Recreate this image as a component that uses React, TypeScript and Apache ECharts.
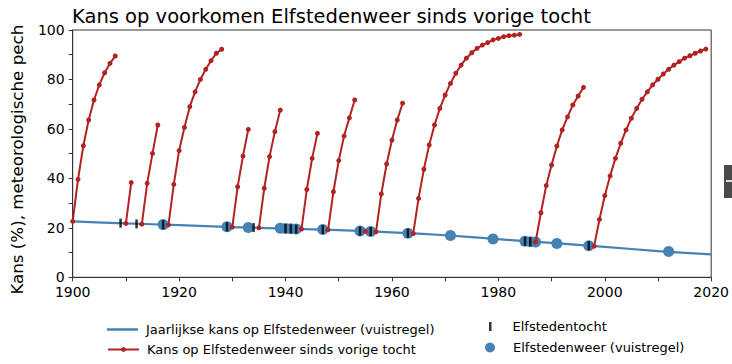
import React, { useEffect, useRef } from "react";
import * as echarts from "echarts";

// Jaarlijkse kans op Elfstedenweer (vuistregel), read at decade points
const lineYears = [1900, 1910, 1920, 1930, 1940, 1950, 1960, 1970, 1980, 1990, 2000, 2010, 2020];
const lineValues = [22.6, 21.8, 21.1, 20.3, 19.7, 19.1, 18.2, 17.0, 15.4, 13.9, 12.3, 10.6, 9.3];

// Kans op Elfstedenweer sinds vorige tocht: one curve per period
const curveStarts = [1900, 1910, 1913, 1918, 1930, 1935, 1943, 1948, 1955, 1957, 1964, 1987, 1998];
const curve1900 = [22.6, 39.6, 53.2, 63.6, 71.7, 77.8, 82.7, 86.5, 89.5];
const curve1910 = [21.8, 38.3];
const curve1913 = [21.5, 38.0, 50.1, 61.6];
const curve1918 = [21.2, 37.6, 51.2, 60.6, 69.0, 75.0, 80.0, 84.1, 87.6, 90.6, 92.2];
const curve1930 = [20.3, 36.6, 49.0, 59.8];
const curve1935 = [20.0, 36.0, 48.8, 58.9, 67.6];
const curve1943 = [19.5, 35.5, 48.1, 58.2];
const curve1948 = [19.2, 34.6, 47.2, 57.1, 64.5, 71.7];
const curve1955 = [18.6];
const curve1957 = [18.4, 33.7, 45.8, 55.5, 63.6, 70.4];
const curve1964 = [17.7, 31.9, 43.7, 53.5, 61.6, 68.3, 73.7, 78.4, 82.5, 85.8, 88.6, 90.8, 92.6, 93.9, 94.9, 96.0, 96.6, 97.3, 97.7, 97.9, 98.2];
const curve1987 = [14.3, 26.1, 37.1, 45.4, 53.1, 59.6, 64.9, 69.7, 73.3, 76.8];
const curve1998 = [12.6, 23.4, 33.0, 41.0, 48.1, 54.2, 59.6, 64.3, 68.3, 72.0, 75.0, 77.8, 80.1, 82.2, 84.1, 85.8, 87.2, 88.6, 89.6, 90.6, 91.5, 92.3];
const curves = [curve1900, curve1910, curve1913, curve1918, curve1930, curve1935, curve1943, curve1948, curve1955, curve1957, curve1964, curve1987, curve1998];

// Elfstedentocht
const tochtYears = [1909, 1912, 1917, 1929, 1934, 1940, 1941, 1942, 1947, 1954, 1956, 1963, 1985, 1986, 1997];
const tochtValues = [21.9, 21.6, 21.3, 20.4, 20.1, 19.7, 19.6, 19.5, 19.3, 18.7, 18.5, 17.8, 14.6, 14.4, 12.8];

// Elfstedenweer (vuistregel)
const weerYears = [1917, 1929, 1933, 1939, 1940, 1941, 1942, 1947, 1954, 1956, 1963, 1971, 1979, 1985, 1986, 1987, 1991, 1997, 2012];
const weerValues = [21.3, 20.4, 20.1, 19.8, 19.7, 19.6, 19.5, 19.3, 18.7, 18.5, 17.8, 16.9, 15.5, 14.6, 14.4, 14.3, 13.7, 12.8, 10.4];

const xTicksLabeled = [1900, 1920, 1940, 1960, 1980, 2000, 2020];
const yTicksLabeled = [0, 20, 40, 60, 80, 100];

const NAME_LINE = "Jaarlijkse kans op Elfstedenweer (vuistregel)";
const NAME_RED = "Kans op Elfstedenweer sinds vorige tocht";
const NAME_TOCHT = "Elfstedentocht";
const NAME_WEER = "Elfstedenweer (vuistregel)";

const FONT = "DejaVu Sans";
const BLUE = "#4682b4";
const RED = "#b22222";

export default function App() {
  const ref = useRef<HTMLDivElement>(null);
  useEffect(() => {
    if (!ref.current) return;
    const chart = echarts.init(ref.current, undefined, { renderer: "svg" });

    const redSeries = curves.map((vals, i) => ({
      type: "line",
      name: NAME_RED,
      data: vals.map((v, k) => [curveStarts[i] + k, v]),
      symbol: "circle",
      symbolSize: 5,
      showSymbol: true,
      lineStyle: { color: RED, width: 2 },
      itemStyle: { color: RED },
      z: 3,
    }));

    const option: any = {
      animation: false,
      backgroundColor: "#fff",
      title: {
        text: "Kans op voorkomen Elfstedenweer sinds vorige tocht",
        left: 67,
        top: 1,
        textStyle: { fontFamily: FONT, fontSize: 19.5, fontWeight: "normal", color: "#000" },
      },
      grid: {
        left: 72.7,
        right: 19.3,
        top: 30,
        bottom: 86.7,
        show: true,
        borderColor: "#333",
        borderWidth: 1,
        containLabel: false,
      },
      xAxis: {
        type: "value",
        min: 1900,
        max: 2020,
        interval: 10,
        axisLine: { show: true, lineStyle: { color: "#333", width: 1 } },
        axisTick: { show: true, inside: false, length: 4, lineStyle: { color: "#333" } },
        splitLine: { show: false },
        axisLabel: {
          margin: 8,
          fontFamily: FONT,
          fontSize: 14,
          color: "#000",
          formatter: (v: number) => (xTicksLabeled.includes(v) ? String(v) : ""),
        },
      },
      yAxis: {
        type: "value",
        min: 0,
        max: 100,
        interval: 10,
        name: "Kans (%), meteorologische pech",
        nameLocation: "middle",
        nameGap: 47,
        nameTextStyle: { fontFamily: FONT, fontSize: 16.7, color: "#000", padding: [0, 12, 0, 0] },
        axisLine: { show: true, lineStyle: { color: "#333", width: 1 } },
        axisTick: { show: true, inside: false, length: 4, lineStyle: { color: "#333" } },
        splitLine: { show: false },
        axisLabel: {
          margin: 8,
          fontFamily: FONT,
          fontSize: 14,
          color: "#000",
          formatter: (v: number) => (yTicksLabeled.includes(v) ? String(v) : ""),
        },
      },
      legend: [
        {
          data: [{ name: NAME_LINE, icon: "rect" }],
          left: 107,
          top: 323,
          padding: 0,
          itemWidth: 31,
          itemHeight: 2.5,
          textStyle: { fontFamily: FONT, fontSize: 13, color: "#000", padding: [0, 0, 0, 3] },
        },
        {
          data: [NAME_RED],
          left: 107,
          top: 343,
          padding: 0,
          itemWidth: 31,
          itemHeight: 6,
          textStyle: { fontFamily: FONT, fontSize: 13, color: "#000", padding: [0, 0, 0, 3] },
        },
        {
          data: [{ name: NAME_TOCHT, icon: "rect" }],
          left: 489,
          top: 320,
          padding: 0,
          itemWidth: 2.5,
          itemHeight: 9,
          textStyle: { fontFamily: FONT, fontSize: 13, color: "#000", padding: [0, 0, 0, 16] },
        },
        {
          data: [{ name: NAME_WEER, icon: "circle" }],
          left: 485,
          top: 341,
          padding: 0,
          itemWidth: 10,
          itemHeight: 10,
          textStyle: { fontFamily: FONT, fontSize: 13, color: "#000", padding: [0, 0, 0, 13] },
        },
      ],
      series: [
        {
          type: "scatter",
          name: NAME_WEER,
          data: weerYears.map((y, i) => [y, weerValues[i]]),
          symbol: "circle",
          symbolSize: 11,
          itemStyle: { color: BLUE, opacity: 1 },
          z: 1,
        },
        {
          type: "line",
          name: NAME_LINE,
          data: lineYears.map((y, i) => [y, lineValues[i]]),
          symbol: "none",
          showSymbol: false,
          smooth: 0.3,
          lineStyle: { color: BLUE, width: 2.2 },
          itemStyle: { color: BLUE },
          z: 2,
        },
        ...redSeries,
        {
          type: "scatter",
          name: NAME_TOCHT,
          data: tochtYears.map((y, i) => [y, tochtValues[i]]),
          symbol: "rect",
          symbolSize: [2.5, 9],
          itemStyle: { color: "#000" },
          z: 4,
        },
      ],
      graphic: [
        { type: "rect", shape: { x: 724, y: 165, width: 8, height: 33 }, style: { fill: "#4a4a4a" } },
        { type: "rect", shape: { x: 726, y: 180, width: 6, height: 2 }, style: { fill: "#ddd" } },
      ],
    };
    chart.setOption(option);
    return () => chart.dispose();
  }, []);
  return (
    <div
      ref={ref}
      style={{ position: "fixed", left: 0, top: 0, width: 732, height: 364, background: "#fff" }}
    />
  );
}
